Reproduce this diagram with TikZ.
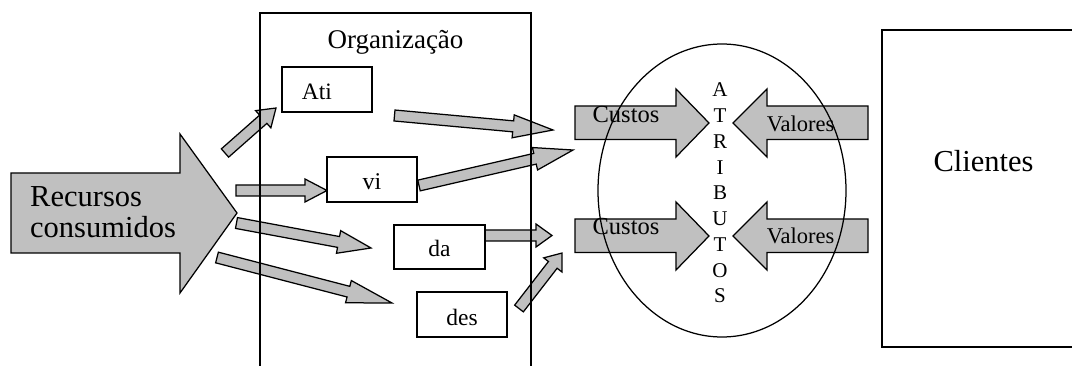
\documentclass[tikz,border=0pt]{standalone}
\usepackage{fontspec}
\setmainfont{Liberation Serif}
\usetikzlibrary{calc,shapes.geometric}

\definecolor{arrowgray}{RGB}{192,192,192}

\tikzset{
  outline/.style={draw=black, line width=1.25pt},
  blockarr/.style={outline, fill=arrowgray, line join=miter},
  boxnode/.style={outline, fill=white, rectangle, inner sep=0pt},
  lbl/.style={anchor=base, inner sep=0pt, text=black},
}

% block arrow from #1 (middle of the tail) to #2 (tip), head length #3
\newcommand\blockarrow[3]{%
  \draw[blockarr] let \p1=($(#2)-(#1)$), \n1={atan2(\y1,\x1)}, \n2={veclen(\x1,\y1)} in
    [shift={(#1)}, rotate=\n1]
    (0,5.5) -- ({\n2-#3},5.5) -- ({\n2-#3},11.5) -- (\n2,0)
    -- ({\n2-#3},-11.5) -- ({\n2-#3},-5.5) -- (0,-5.5) -- cycle;}

\begin{document}
\begin{tikzpicture}[x=1pt, y=-1pt]
\useasboundingbox (0,0) rectangle (1072,366);
\begin{scope}
\clip (0,0) rectangle (1072,366);

% large input arrow
\draw[blockarr] (11,173) -- (180,173) -- (180,134) -- (237,213)
  -- (180,293) -- (180,253) -- (11,253) -- cycle;

% arrow end points
\coordinate (a1t) at (225,153);   \coordinate (a1h) at (276,108);
\coordinate (a2t) at (236,190.5); \coordinate (a2h) at (327,190.5);
\coordinate (a3t) at (236.5,223); \coordinate (a3h) at (371,248);
\coordinate (a4t) at (217,257.5); \coordinate (a4h) at (392,303);
\coordinate (a5t) at (394.5,115.5); \coordinate (a5h) at (553,130);
\coordinate (a6t) at (419,185.5); \coordinate (a6h) at (573,150);
\coordinate (a7t) at (485,235.5); \coordinate (a7h) at (552,235.5);
\coordinate (a8t) at (519,308.5); \coordinate (a8h) at (562,253);

\blockarrow{a1t}{a1h}{17}
\blockarrow{a2t}{a2h}{22}
\blockarrow{a3t}{a3h}{33}
\blockarrow{a4t}{a4h}{45}
\blockarrow{a5t}{a5h}{40}
\blockarrow{a6t}{a6h}{39}
\blockarrow{a7t}{a7h}{16}
\blockarrow{a8t}{a8h}{15}

% costs and values arrows meeting at the attributes
\foreach \dy in {0,113} {
  \begin{scope}[yshift=-\dy pt]
    \draw[blockarr] (575,106) -- (676,106) -- (676,89) -- (709,123)
      -- (676,157) -- (676,139.5) -- (575,139.5) -- cycle;
    \draw[blockarr] (868,106) -- (767,106) -- (767,89) -- (733,123)
      -- (767,157) -- (767,139.5) -- (868,139.5) -- cycle;
  \end{scope}
}

% organisation frame (open at the bottom)
\draw[outline] (260,380) -- (260,13) -- (531,13) -- (531,380);

% attributes ellipse
\node[ellipse, draw=black, line width=1.25pt, minimum width=248pt,
      minimum height=293pt, inner sep=0pt] (attr) at (722,190.5) {};

% activity boxes
\node[boxnode, minimum width=90pt, minimum height=45pt] (ati) at (327,89.5) {};
\node[boxnode, minimum width=90pt, minimum height=45pt] (vi) at (372,179.5) {};
\node[boxnode, minimum width=91pt, minimum height=44pt] (da) at (439.5,247) {};
\node[boxnode, minimum width=90pt, minimum height=45pt] (des) at (462,314.5) {};

% clients box
\node[boxnode, minimum width=198pt, minimum height=317pt] (cli) at (981,188.5) {};

% texts
\node[lbl, anchor=base west, font=\fontsize{30.5}{34}\selectfont] (rec1) at (30,207) {Recursos};
\node[lbl, anchor=base west, font=\fontsize{30.5}{34}\selectfont] (rec2) at (30,238) {consumidos};
\node[lbl, font=\fontsize{27}{30}\selectfont] (org) at (395.5,48.5) {Organização};
\node[lbl, font=\fontsize{23.5}{27}\selectfont] (tati) at (317,100) {Ati};
\node[lbl, font=\fontsize{24}{27}\selectfont] (tvi) at (372,190) {vi};
\node[lbl, font=\fontsize{23.5}{27}\selectfont] (tda) at (439.5,257) {da};
\node[lbl, font=\fontsize{23.5}{27}\selectfont] (tdes) at (462,326) {des};
\node[lbl, font=\fontsize{24.5}{28}\selectfont] (cus1) at (626,123) {Custos};
\node[lbl, font=\fontsize{24.5}{28}\selectfont] (cus2) at (626,235) {Custos};
\node[lbl, font=\fontsize{22.5}{26}\selectfont] (val1) at (800.5,132) {Valores};
\node[lbl, font=\fontsize{22.5}{26}\selectfont] (val2) at (800.5,244) {Valores};
\node[lbl, font=\fontsize{30.5}{33}\selectfont] (tcli) at (983.5,172) {Clientes};
\foreach \l [count=\i] in {A,T,R,I,B,U,T,O,S}
  \node[lbl, font=\fontsize{21}{24}\selectfont] (atl\i) at (720,{97+25.75*(\i-1)}) {\l};

\end{scope}
\end{tikzpicture}
\end{document}
